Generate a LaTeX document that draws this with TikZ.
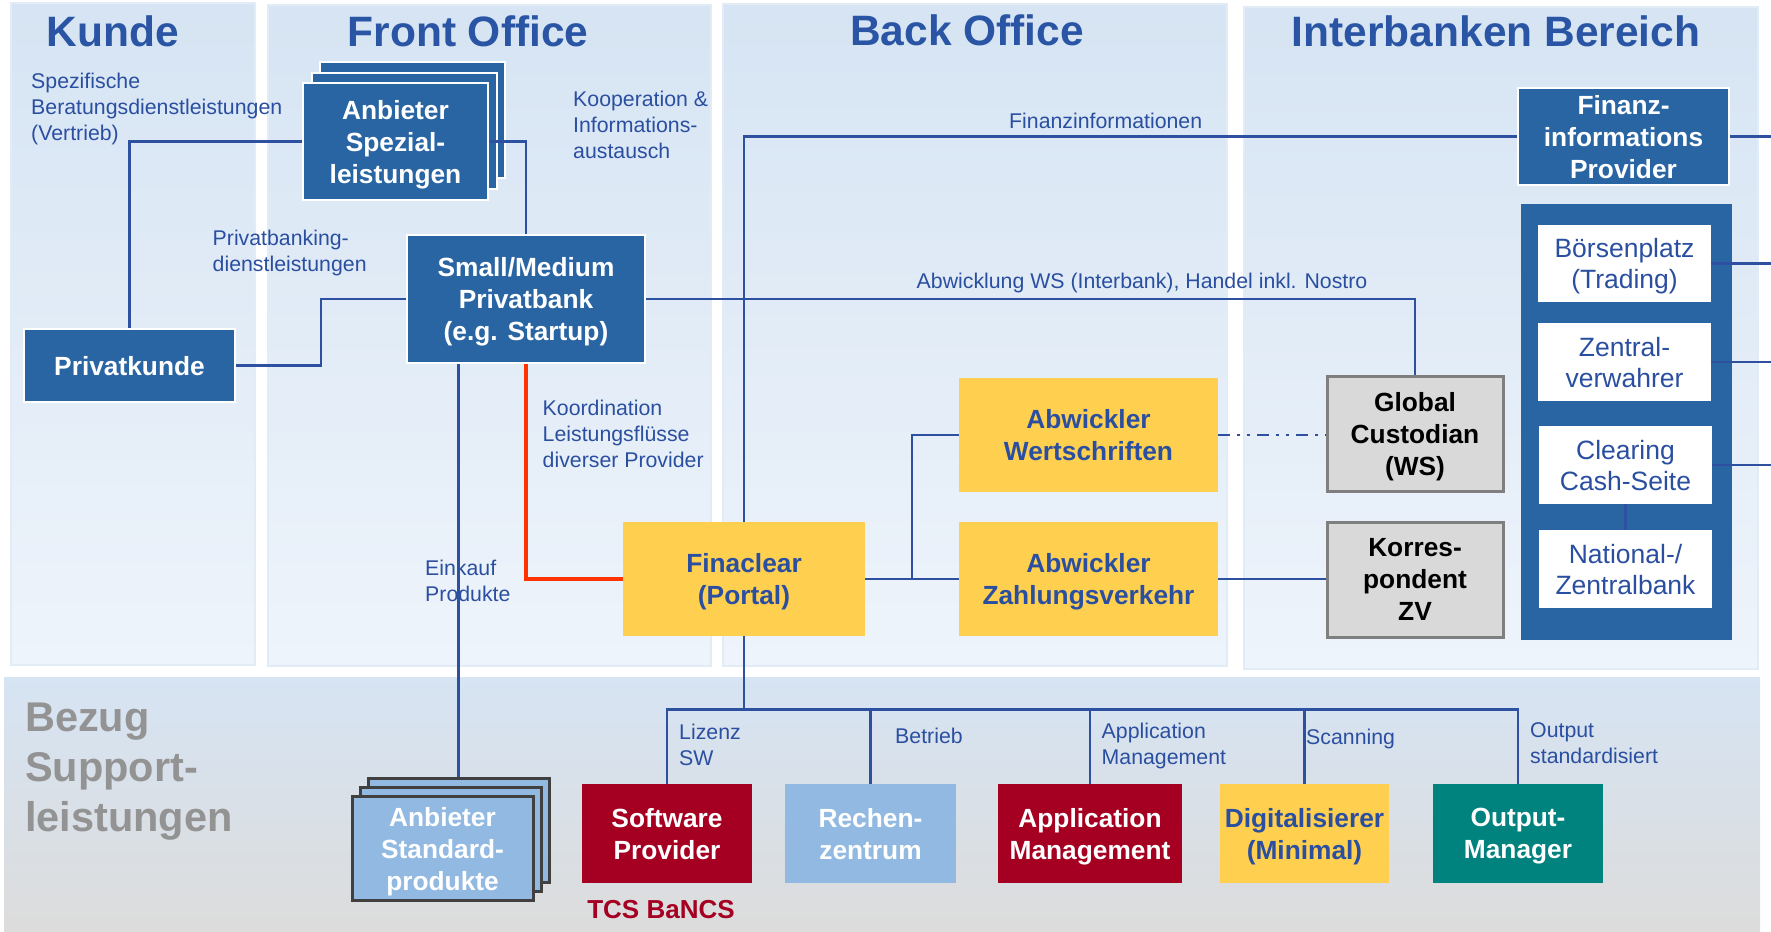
\documentclass[tikz,border=0pt]{standalone}
\usepackage{fontspec}
\setmainfont{Liberation Sans}
\definecolor{paneltop}{HTML}{D6E4F3}
\definecolor{panelbot}{HTML}{EEF4FB}
\definecolor{panelrim}{HTML}{E2ECF6}
\definecolor{bandbot}{HTML}{DCDCDC}
\definecolor{hdrblue}{HTML}{2A55A5}
\definecolor{txtblue}{HTML}{2B4FA0}
\definecolor{lineblue}{HTML}{2D50A0}
\definecolor{boxblue}{HTML}{2A65A3}
\definecolor{boxgold}{HTML}{FFD04F}
\definecolor{boxgrey}{HTML}{D9D9D9}
\definecolor{rimgrey}{HTML}{7F7F7F}
\definecolor{boxred}{HTML}{A50021}
\definecolor{boxsky}{HTML}{91B9E2}
\definecolor{boxteal}{HTML}{00827E}
\definecolor{linered}{HTML}{FF3300}
\definecolor{greytext}{HTML}{939393}
\definecolor{stackrim}{HTML}{404040}
\tikzset{
  panel/.style={draw=panelrim, line width=1.5, top color=paneltop, bottom color=panelbot},
  hdr/.style={text=hdrblue, font=\fontsize{42.5}{50}\selectfont\bfseries, anchor=base, inner sep=0},
  lbl/.style={text=txtblue, font=\fontsize{21.3}{26}\selectfont, align=left, anchor=north west, inner sep=0},
  dims/.style 2 args={minimum width=#1, minimum height=#2},
  blk/.style={font=\fontsize{26.3}{32}\selectfont\bfseries, align=center, inner sep=0, text depth=0pt},
  navybox/.style={blk, fill=boxblue, draw=white, line width=2, text=white},
  goldbox/.style={blk, fill=boxgold, text=txtblue},
  greybox/.style={blk, fill=boxgrey, draw=rimgrey, line width=3, text=black},
  whitebox/.style={blk, font=\fontsize{26.5}{31}\selectfont, fill=white, text=txtblue},
  redbox/.style={blk, fill=boxred, text=white},
  skybox/.style={blk, fill=boxsky, text=white},
  tealbox/.style={blk, fill=boxteal, text=white},
  stackbox/.style={blk, fill=boxsky, draw=stackrim, line width=3, text=white},
  link/.style={draw=lineblue, line width=2.6},
}
\begin{document}
\begin{tikzpicture}[x=1pt, y=-1pt]
  \useasboundingbox (0,0) rectangle (1771,931);
  \fill[white] (0,0) rectangle (1771,931);
  % Bereiche
  \draw[panel] (11,3) rectangle (255,665);
  \draw[panel] (268,5) rectangle (711,666);
  \draw[panel] (723,4) rectangle (1227,666);
  \draw[panel] (1244,7) rectangle (1758,669);
  \shade[top color=paneltop, bottom color=bandbot] (4,677) rectangle (1760,931);

  \node[hdr] (tKunde) at (113,47) {Kunde};
  \node[hdr] (tFront) at (468,47) {Front Office};
  \node[hdr] (tBack) at (967,46) {Back Office};
  \node[hdr] (tInter) at (1496,47) {Interbanken Bereich};
  \node[anchor=north west, inner sep=0, align=left, text=greytext,
        font=\fontsize{41.5}{50}\selectfont\bfseries] (bezug) at (25,702.5) {Bezug\\Support-\\leistungen};

  \node[lbl] (lVertrieb) at (31,72.5) {Spezifische\\Beratungsdienstleistungen\\(Vertrieb)};
  \node[lbl] (lKoop) at (573,90.5) {Kooperation \&\\Informations-\\austausch};
  \node[lbl] (lPb) at (212.5,229.5) {Privatbanking-\\dienstleistungen};
  \node[lbl] (lFin) at (1009,112.5) {Finanzinformationen};
  \node[lbl] (lAbw) at (916.5,272.5) {Abwicklung WS (Interbank), Handel inkl. Nostro};
  \node[lbl] (lKoord) at (542.5,399.5) {Koordination\\Leistungsflüsse\\diverser Provider};
  \node[lbl] (lEinkauf) at (425,559.5) {Einkauf\\Produkte};
  \node[lbl] (lLizenz) at (679,723.5) {Lizenz\\SW};
  \node[lbl] (lBetrieb) at (895,727.5) {Betrieb};
  \node[lbl] (lAppM) at (1101.5,722.5) {Application\\Management};
  \node[lbl] (lScan) at (1306,728.5) {Scanning};
  \node[lbl] (lOutput) at (1530,722.5) {Output\\standardisiert};

  \node[navybox, dims={185}{116}] (spez3) at (412.5,120) {};
  \node[navybox, dims={185}{116}] (spez2) at (404,131) {};
  \node[navybox, dims={185}{116}] (spez) at (395.5,141.5) {Anbieter\\Spezial-\\leistungen};
  \node[navybox, dims={211}{73}] (kunde) at (129.5,365.5) {Privatkunde};
  \node[navybox, dims={238}{128}] (bank) at (526,299) {Small/Medium\\Privatbank\\(e.g. Startup)};
  \node[navybox, dims={211}{97}] (finprov) at (1623.5,136.5) {Finanz-\\informations\\Provider};
  \node[fill=boxblue, dims={211}{436}] (grp) at (1626.5,422) {};
  \node[whitebox, dims={173}{77}] (boerse) at (1624.5,263.5) {Börsenplatz\\(Trading)};
  \node[whitebox, dims={173}{78}] (zentral) at (1624.5,362) {Zentral-\\verwahrer};
  \node[whitebox, dims={173}{78}] (clearing) at (1625.5,465) {Clearing\\Cash-Seite};
  \node[whitebox, dims={173}{78}] (zbank) at (1625.5,569) {National-/\\Zentralbank};
  \node[goldbox, dims={259}{114}] (abw) at (1088.5,435) {Abwickler\\Wertschriften};
  \node[goldbox, dims={259}{114}] (abz) at (1088.5,579) {Abwickler\\Zahlungsverkehr};
  \node[goldbox, dims={242}{114}] (fina) at (744,579) {Finaclear\\(Portal)};
  \node[greybox, dims={176}{115}] (glob) at (1415,433.5) {Global\\Custodian\\(WS)};
  \node[greybox, dims={176}{115}] (korr) at (1415,579.5) {Korres-\\pondent\\ZV};
  \node[stackbox, dims={181}{104}] (std3) at (458.5,830) {};
  \node[stackbox, dims={181}{104}] (std2) at (450.5,839.5) {};
  \node[stackbox, dims={181}{104}] (std) at (442.5,848.5) {Anbieter\\Standard-\\produkte};
  \node[redbox, dims={170}{99}] (swprov) at (667,833.5) {Software\\Provider};
  \node[skybox, dims={171}{99}] (rz) at (870.5,833.5) {Rechen-\\zentrum};
  \node[redbox, dims={184}{99}] (appm) at (1090,833.5) {Application\\Management};
  \node[goldbox, dims={169}{99}] (digi) at (1304.5,833.5) {Digitalisierer\\(Minimal)};
  \node[tealbox, dims={170}{99}] (outm) at (1518,833.5) {Output-\\Manager};
  \node[text=boxred, font=\fontsize{26}{30}\selectfont\bfseries, anchor=base, inner sep=0] (tcs) at (661,918) {TCS BaNCS};

  \coordinate (rim) at (1771,0);
  \coordinate (bus) at (0,709.5);
  \coordinate (fork) at (912,579);
  \coordinate (turn) at (321,0);

  \draw[link] (kunde.north) |- (spez.west);
  \draw[link] (spez.east) -| (bank.north);
  \draw[link] (kunde.east) -| (turn |- bank.west) -- (bank.west);
  \draw[link] (bank.east) -| (glob.north);
  \draw[link] (finprov.west) -| (fina.north);
  \draw[draw=linered, line width=3.5] (bank.south) |- (fina.west);
  \draw[link] (bank.south -| std3.north) -- (std3.north);
  \draw[link] (fina.east) -- (abz.west);
  \draw[link] (fork) |- (abw.west);
  \draw[link, dash pattern=on 12 off 7 on 3 off 7 on 3 off 7] (abw.east) -- (abw.east -| glob.west);
  \draw[link] (abz.east) -- (abz.east -| korr.west);
  \draw[link] (fina.south) -- (fina.south |- bus);
  \draw[link] (swprov.north) |- (outm.north |- bus) -- (outm.north);
  \foreach \n in {rz, appm, digi}
    \draw[link] (\n.north) -- (\n.north |- bus);
  \foreach \n in {finprov, boerse, zentral, clearing}
    \draw[link] (\n.east) -- (\n.east -| rim);
  \draw[link] (clearing.south) -- (zbank.north);
\end{tikzpicture}
\end{document}
